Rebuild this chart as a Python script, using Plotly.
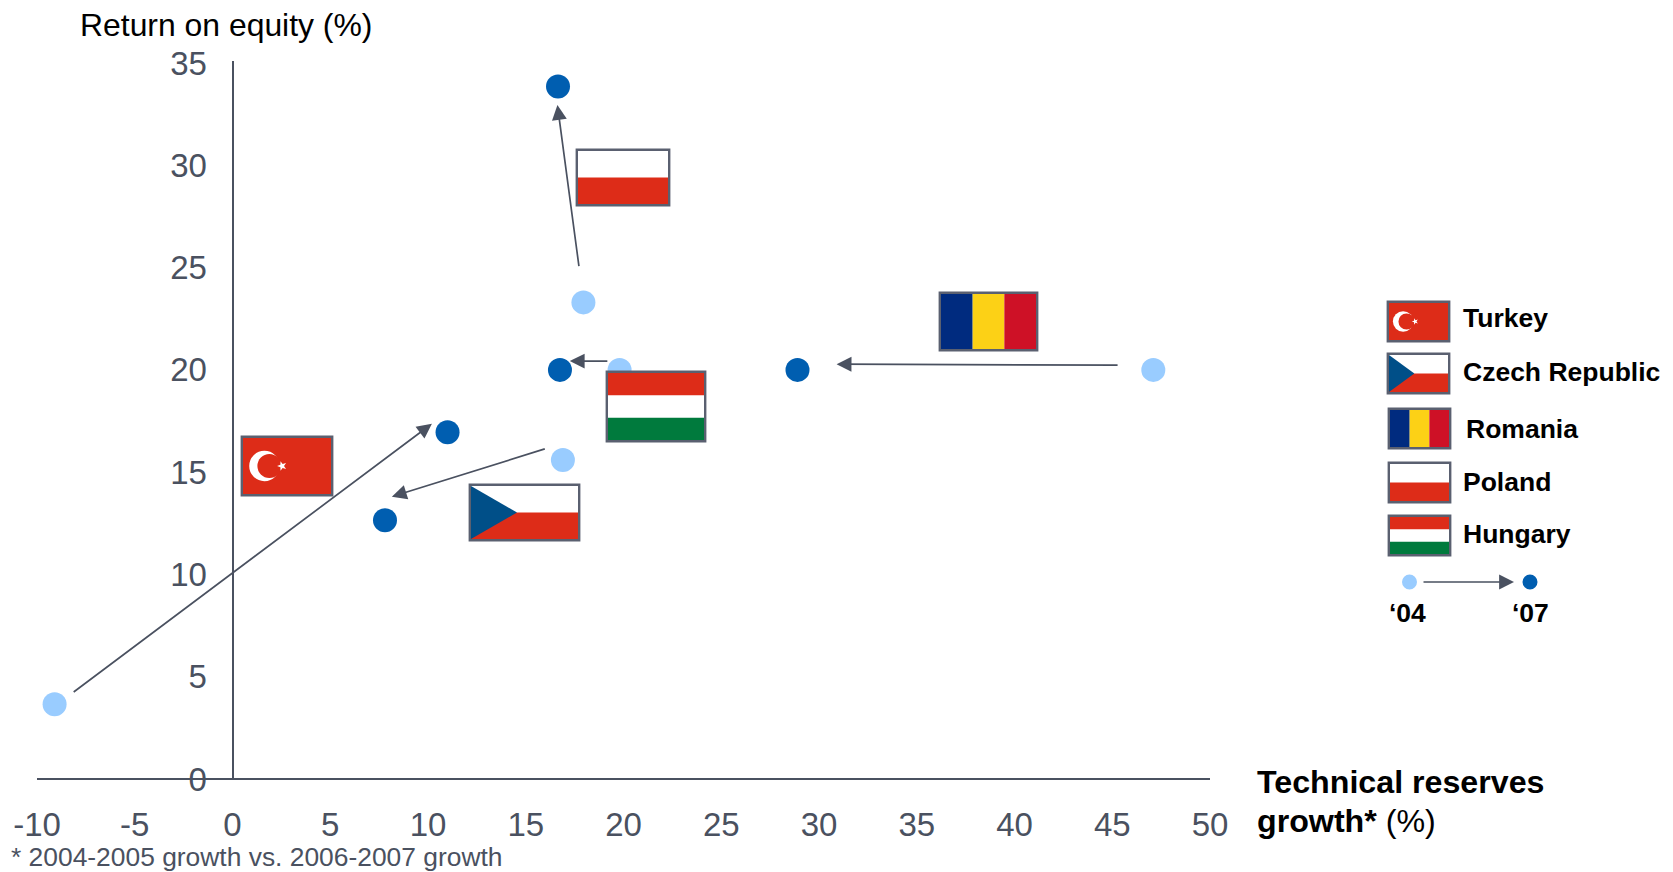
import math
import plotly.graph_objects as go

# Technical reserves growth and return on equity, by country
countries = ["Turkey", "Czech Republic", "Romania", "Poland", "Hungary"]
growth_04 = [-9.1, 16.9, 47.1, 17.95, 19.8]
roe_04 = [3.65, 15.6, 20.0, 23.3, 20.0]
growth_07 = [11.0, 7.8, 28.9, 16.65, 16.75]
roe_07 = [16.95, 12.65, 20.0, 33.85, 20.0]

# Arrows sit a little off the dots: (from x, from y, to x, to y) in axis units
arrows = [
    (-8.2, 4.2, 10.2, 17.37),
    (16.05, 16.16, 8.15, 13.8),
    (45.35, 20.23, 30.9, 20.28),
    (17.73, 25.0, 16.62, 32.95),
    (19.25, 20.43, 17.25, 20.43),
]

x_ticks = list(range(-10, 51, 5))
x_tick_text = ["-10", "-5", "0", "5", "10", "15", "20", "25", "30", "35", "40", "45", "50"]
y_ticks = list(range(0, 36, 5))

W, H = 1673, 872
LEFT, RIGHT, TOP, BOTTOM = 37, 1210, 61, 779
SLATE = "#4A5160"
LIGHT = "#99CCFF"
DARK = "#005EB0"
RED = "#DD2C18"
GREEN = "#007A3D"
FONT = "Liberation Sans"


def px(v):
    return (v - LEFT) / (RIGHT - LEFT)


def py(v):
    return (BOTTOM - v) / (BOTTOM - TOP)


shapes = []


def rect(x0, y0, x1, y1, fill, line=None, width=0):
    shapes.append(dict(type="rect", xref="paper", yref="paper",
                       x0=px(x0), x1=px(x1), y0=py(y0), y1=py(y1),
                       fillcolor=fill, line=dict(color=line or fill, width=width)))


def polygon(points, fill):
    d = "M " + " L ".join(f"{px(a):.5f},{py(b):.5f}" for a, b in points) + " Z"
    shapes.append(dict(type="path", xref="paper", yref="paper", path=d,
                       fillcolor=fill, line=dict(width=0)))


def circle(cx, cy, r, fill):
    shapes.append(dict(type="circle", xref="paper", yref="paper",
                       x0=px(cx - r), x1=px(cx + r), y0=py(cy - r), y1=py(cy + r),
                       fillcolor=fill, line=dict(width=0)))


def flag(kind, x0, y0, x1, y1):
    # The frame is stroked on the rectangle's edge, so pull it in to keep the outer size
    x0, y0, x1, y1 = x0 + 0.8, y0 + 0.8, x1 - 0.8, y1 - 0.8
    w, h = x1 - x0, y1 - y0
    rect(x0, y0, x1, y1, "white", "#5A6070", 2.4)
    i = 1.2
    ax0, ax1, ay0, ay1 = x0 + i, x1 - i, y0 + i, y1 - i
    aw, ah = ax1 - ax0, ay1 - ay0
    if kind == "Turkey":
        rect(ax0, ay0, ax1, ay1, RED)
        cy = y0 + h * 0.5
        circle(x0 + w * 0.25, cy, h * 0.26, "white")
        circle(x0 + w * 0.305, cy, h * 0.205, RED)
        sx, sy, sr = x0 + w * 0.445, cy, h * 0.085
        star = []
        for k in range(10):
            a = math.radians(180 + k * 36)
            r = sr if k % 2 == 0 else sr * 0.4
            star.append((sx + r * math.cos(a), sy + r * math.sin(a)))
        polygon(star, "white")
    elif kind == "Czech Republic":
        rect(ax0, ay0 + ah / 2, ax1, ay1, RED)
        polygon([(ax0, ay0), (ax0 + aw * 0.43, ay0 + ah / 2), (ax0, ay1)], "#004F88")
    elif kind == "Romania":
        rect(ax0, ay0, ax0 + aw / 3, ay1, "#002B7F")
        rect(ax0 + aw / 3, ay0, ax0 + 2 * aw / 3, ay1, "#FCD116")
        rect(ax0 + 2 * aw / 3, ay0, ax1, ay1, "#CE1126")
    elif kind == "Poland":
        rect(ax0, ay0 + ah / 2, ax1, ay1, RED)
    elif kind == "Hungary":
        rect(ax0, ay0, ax1, ay0 + ah / 3, RED)
        rect(ax0, ay0 + 2 * ah / 3, ax1, ay1, GREEN)


# Flags next to the arrows
flag("Turkey", 241, 436, 333, 496)
flag("Czech Republic", 469, 484, 580, 541)
flag("Hungary", 606, 371, 706, 442)
flag("Poland", 576, 149, 670, 206)
flag("Romania", 939, 292, 1038, 351)

annotations = []


def label(text, x, y, size, color="black", anchor="left", bold=False):
    if bold:
        text = f"<b>{text}</b>"
    annotations.append(dict(text=text, x=px(x), y=py(y), xref="paper", yref="paper",
                            xanchor=anchor, yanchor="middle", showarrow=False,
                            align="left", font=dict(family=FONT, size=size, color=color)))


# Country key on the right
legend_rows = [(301, 342, 1460.5, 318), (353, 394, 1460.5, 372), (408, 449, 1463.5, 429),
               (462, 503, 1461, 482), (515, 556, 1461, 534)]
legend_x = [1387, 1387, 1388, 1388, 1388]
for name, (y0, y1, tx, ty), x0 in zip(countries, legend_rows, legend_x):
    flag(name, x0, y0, x0 + 63, y1)
    label(name, tx, ty, 26.5, bold=True)

circle(1409.5, 582, 7.5, LIGHT)
circle(1530, 582, 7.5, DARK)
label("‘04", 1407, 613, 26.5, anchor="center", bold=True)
label("‘07", 1530, 613, 26.5, anchor="center", bold=True)

annotations.append(dict(x=px(1514), y=py(582), ax=-92, ay=0,
                        xref="paper", yref="paper", axref="pixel", ayref="pixel",
                        text="", showarrow=True, arrowhead=2, arrowsize=1.75,
                        arrowwidth=1.7, arrowcolor=SLATE))

for x0, y0, x1, y1 in arrows:
    annotations.append(dict(x=x1, y=y1, ax=x0, ay=y0, xref="x", yref="y",
                            axref="x", ayref="y", text="", showarrow=True,
                            arrowhead=2, arrowsize=1.75, arrowwidth=1.7,
                            arrowcolor=SLATE))

# Axis titles and footnote
label("Return on equity (%)", 78, 24.5, 31.9)
label("<b>Technical reserves</b>", 1255, 782, 32.2)
label("<b>growth*</b> (%)", 1255, 821, 32.2)
label("* 2004-2005 growth vs. 2006-2007 growth", 9, 857.5, 26.4, color=SLATE)

fig = go.Figure()
fig.add_trace(go.Scatter(x=growth_04, y=roe_04, text=countries, mode="markers", name="2004",
                         cliponaxis=False, marker=dict(size=24, color=LIGHT)))
fig.add_trace(go.Scatter(x=growth_07, y=roe_07, text=countries, mode="markers", name="2007",
                         cliponaxis=False, marker=dict(size=24, color=DARK)))

fig.update_layout(
    width=W, height=H, showlegend=False,
    paper_bgcolor="white", plot_bgcolor="white",
    margin=dict(l=LEFT, r=W - RIGHT, t=TOP, b=H - BOTTOM, pad=0),
    font=dict(family=FONT, color=SLATE),
    shapes=shapes, annotations=annotations,
    xaxis=dict(range=[-10, 50], tickvals=x_ticks, ticktext=x_tick_text, showgrid=False,
               zeroline=False, showline=True, linecolor=SLATE, linewidth=2, ticks="outside",
               ticklen=16, tickcolor="rgba(0,0,0,0)", tickfont=dict(size=33, color=SLATE),
               anchor="free", position=0),
    yaxis=dict(range=[0, 35.1], tickvals=y_ticks, showgrid=False, zeroline=False,
               showline=True, linecolor=SLATE, linewidth=2, ticks="outside",
               ticklen=18, tickcolor="rgba(0,0,0,0)", tickfont=dict(size=33, color=SLATE),
               anchor="free", position=10 / 60),
)

fig.write_html("out.html")
